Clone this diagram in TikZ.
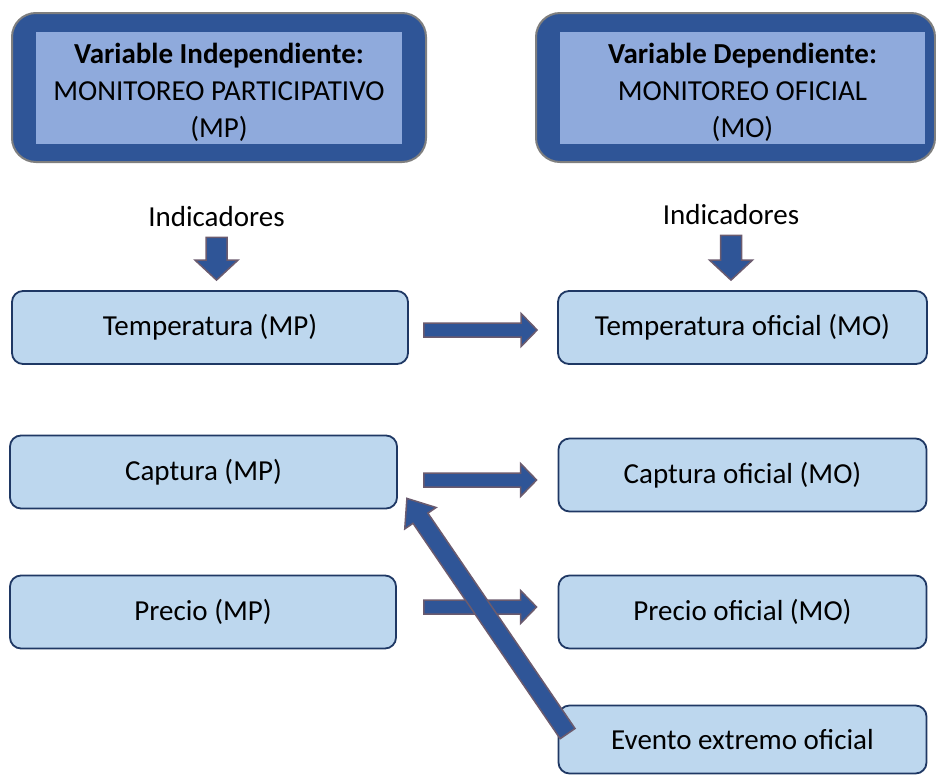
\documentclass[tikz,border=0pt]{standalone}
\usepackage{fontspec}
\setmainfont{Carlito}
\usetikzlibrary{calc, positioning}
\definecolor{varblue}{HTML}{2F5597}
\definecolor{varlight}{HTML}{8FAADC}
\definecolor{boxfill}{HTML}{BDD7EE}
\definecolor{boxedge}{HTML}{1F3864}
\definecolor{arrowedge}{HTML}{6B5B6E}
\definecolor{outergray}{HTML}{7F7F7F}
\newcommand{\bigtext}{\fontsize{29}{37}\selectfont}

\begin{document}
\begin{tikzpicture}[
  x=1pt, y=-1pt,
  varouter/.style={rectangle, draw=outergray, line width=2pt, fill=varblue, rounded corners=24pt, minimum width=#1, minimum height=149pt},
  varinner/.style={rectangle, fill=varlight, align=center, font=\bigtext, inner sep=0pt, minimum width=#1, minimum height=112pt},
  indlabel/.style={font=\bigtext, inner sep=0pt},
  indbox/.style={rectangle, draw=boxedge, line width=1.8pt, fill=boxfill, rounded corners=11pt, font=\bigtext, minimum width=#1, minimum height=73pt},
  blockarrow/.style n args={3}{draw=arrowedge, fill=varblue, line width=1.5pt,
    to path={($(\tikztostart)!#1!90:(\tikztotarget)$)
      -- ($($(\tikztotarget)!#3!(\tikztostart)$)!#1!-90:(\tikztostart)$)
      -- ($($(\tikztotarget)!#3!(\tikztostart)$)!#2!-90:(\tikztostart)$)
      -- (\tikztotarget)
      -- ($($(\tikztotarget)!#3!(\tikztostart)$)!#2!90:(\tikztostart)$)
      -- ($($(\tikztotarget)!#3!(\tikztostart)$)!#1!90:(\tikztostart)$)
      -- ($(\tikztostart)!#1!-90:(\tikztotarget)$) -- cycle}},
]
\useasboundingbox (0,0) rectangle (936,774);

% variables
\node[varouter=414pt] (indep) at (219,87.5) {};
\node[varinner=366pt] (indeplbl) at (219,88) {\rule{0pt}{30pt}\textbf{Variable Independiente:}\\MONITOREO PARTICIPATIVO\\(MP)};
\node[varouter=399pt] (dep) at (735.5,87.5) {};
\node[varinner=365pt] (deplbl) at (742.5,88) {\rule{0pt}{30pt}\textbf{Variable Dependiente:}\\MONITOREO OFICIAL\\(MO)};

\node[indlabel] (indl) at (216.5,217) {Indicadores};
\node[indlabel] (indr) at (731,215) {Indicadores};

% indicadores
\node[indbox=396pt] (tmp) at (210,327.5) {Temperatura (MP)};
\node[indbox=387pt] (cmp) at (203.5,472) {Captura (MP)};
\node[indbox=386pt] (pmp) at (203,612) {Precio (MP)};
\node[indbox=369pt] (tmo) at (742.5,327.5) {Temperatura oficial (MO)};
\node[indbox=368pt] (cmo) at (742.5,475) {Captura oficial (MO)};
\node[indbox=368pt] (pmo) at (742.5,612) {Precio oficial (MO)};
\node[indbox=368pt, minimum height=68pt] (evt) at (742.5,739.5) {Evento extremo oficial};

\draw[blockarrow={10.5pt}{21.5pt}{20pt}] ([yshift=-10pt]indl.south) to ($(indl.south |- tmp.north)+(0,-10)$);
\draw[blockarrow={10.5pt}{21.5pt}{20pt}] ([yshift=-10pt]indr.south) to ($(indr.south |- tmo.north)+(0,-10)$);
\draw[blockarrow={7pt}{16.5pt}{16pt}] ([xshift=15pt,yshift=-2.5pt]tmp.east) to ([xshift=-20pt,yshift=-2.5pt]tmo.west);
\draw[blockarrow={7pt}{16.5pt}{16pt}] ([xshift=26pt,yshift=-8pt]cmp.east) to ([xshift=-21pt,yshift=-5pt]cmo.west);
\draw[blockarrow={7pt}{16.5pt}{16pt}] ([xshift=27pt,yshift=5pt]pmp.east) to ([xshift=-21pt,yshift=5pt]pmo.west);
\draw[blockarrow={9pt}{19pt}{24pt}] ([xshift=10pt,yshift=-29pt]evt.north west) to ([xshift=9pt,yshift=11pt]cmp.south east);
\end{tikzpicture}
\end{document}
